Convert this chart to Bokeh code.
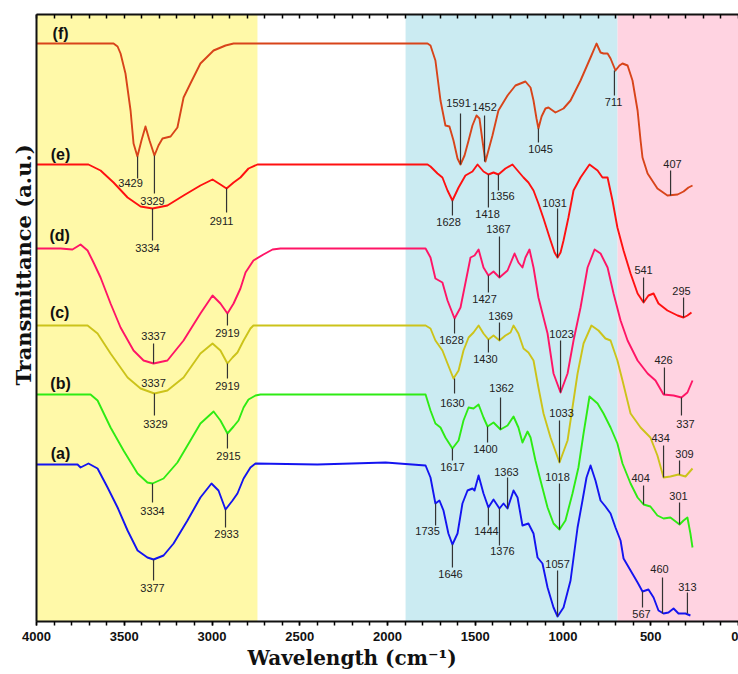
import numpy as np
from bokeh.plotting import figure
from bokeh.models import (Range1d, LinearAxis, SingleIntervalTicker, FixedTicker,
                          BoxAnnotation, Title, ColumnDataSource)
from bokeh.core.properties import value
from bokeh.embed import file_html
from bokeh.resources import INLINE

# ---------------- data (wavenumber cm-1, transmittance a.u.) ----------------
wn_f = [4000, 3863, 3561, 3538, 3521, 3493, 3464, 3447, 3425, 3402, 3379, 3356, 3328, 3305, 3282,
        3236, 3197, 3162, 3123, 3066, 2991, 2923, 2877, 2496, 1926, 1772, 1755, 1727, 1698, 1670,
        1647, 1624, 1601, 1584, 1561, 1538, 1516, 1493, 1476, 1459, 1442, 1425, 1402, 1368, 1316,
        1271, 1214, 1185, 1168, 1151, 1140, 1122, 1100, 1083, 1043, 997, 957, 900, 843, 809, 786,
        769, 746, 729, 701, 678, 661, 632, 604, 575, 558, 547, 518, 462, 405, 347, 313, 285, 262]
t_f = [578, 578, 578, 575, 568, 548, 511, 478, 465, 481, 495, 481, 466, 476, 483,
       485, 494, 524, 538, 558, 571, 576, 578, 578, 578, 578, 576, 561, 521, 496,
       495, 481, 463, 457, 466, 481, 496, 506, 503, 481, 460, 471, 486, 511, 526,
       536, 540, 534, 521, 503, 493, 505, 513, 514, 509, 513, 521, 541, 564, 578, 569,
       568, 568, 563, 551, 556, 558, 556, 541, 511, 481, 464, 448, 433, 426, 427, 430, 434, 436]

wn_e = [4000, 3704, 3635, 3561, 3481, 3407, 3339, 3254, 3162, 3066, 2997, 2952, 2917, 2877, 2838,
        2792, 2741, 1772, 1755, 1715, 1687, 1658, 1630, 1595, 1556, 1516, 1487, 1453, 1425, 1396,
        1368, 1328, 1288, 1259, 1225, 1197, 1168, 1140, 1111, 1071, 1048, 1031, 1014, 997, 969,
        940, 900, 849, 803, 775, 746, 718, 690, 655, 615, 575, 541, 513, 484, 456, 405, 347, 313,
        291, 268]
t_e = [457, 457, 451, 439, 424, 415, 413, 416, 426, 436, 442, 437, 433, 439, 444,
       453, 457, 457, 455, 448, 444, 431, 421, 434, 446, 450, 457, 450, 447, 449,
       447, 453, 457, 451, 444, 439, 431, 418, 403, 381, 369, 364, 369, 381, 404,
       431, 444, 457, 451, 444, 444, 421, 394, 371, 348, 328, 319, 326, 328, 318, 311, 306, 304,
       306, 309]

wn_d = [4000, 3863, 3795, 3749, 3709, 3675, 3635, 3578, 3521, 3447, 3390, 3333, 3254, 3162, 3066,
        2997, 2952, 2912, 2877, 2838, 2809, 2764, 2707, 2655, 2610, 1783, 1755, 1727, 1687, 1658,
        1618, 1584, 1544, 1527, 1504, 1481, 1453, 1425, 1396, 1362, 1316, 1276, 1254, 1231, 1214,
        1191, 1168, 1140, 1088, 1054, 1014, 974, 940, 900, 860, 820, 786, 746, 712, 672, 632,
        575, 518, 473, 427, 370, 325, 291, 262]
t_d = [373, 373, 372, 377, 371, 359, 344, 318, 294, 271, 261, 258, 261, 281, 308,
       326, 318, 308, 318, 333, 349, 361, 367, 372, 373, 373, 364, 343, 339, 321,
       303, 314, 349, 364, 366, 372, 354, 346, 350, 344, 351, 368, 359, 354, 364,
       372, 354, 324, 288, 248, 229, 248, 281, 314, 354, 372, 368, 354, 328, 301, 281,
       261, 248, 241, 227, 226, 224, 229, 241]

wn_c = [4000, 3709, 3652, 3578, 3481, 3407, 3328, 3254, 3162, 3066, 2997, 2952, 2912, 2883, 2855,
        2820, 2781, 2764, 1783, 1755, 1727, 1687, 1658, 1624, 1595, 1567, 1538, 1510, 1481, 1453,
        1425, 1396, 1362, 1328, 1299, 1282, 1254, 1225, 1197, 1168, 1140, 1111, 1071, 1020, 974,
        946, 917, 883, 838, 798, 758, 729, 690, 661, 615, 558, 502, 462, 427, 388, 342, 302, 262]
t_c = [296, 296, 288, 268, 244, 233, 228, 231, 244, 268, 278, 271, 258, 264, 269,
       281, 293, 296, 296, 293, 281, 271, 258, 243, 251, 271, 284, 289, 296, 288,
       282, 286, 281, 286, 289, 296, 288, 273, 269, 261, 234, 208, 184, 159, 181,
       214, 248, 278, 296, 291, 283, 281, 261, 241, 208, 194, 184, 166, 144, 145, 147, 145, 153]

wn_b = [4000, 3692, 3652, 3578, 3504, 3424, 3368, 3339, 3276, 3197, 3123, 3066, 2991, 2952, 2912,
        2877, 2849, 2820, 2792, 2752, 2724, 1783, 1755, 1727, 1698, 1670, 1630, 1595, 1567, 1538,
        1510, 1481, 1453, 1430, 1396, 1356, 1316, 1282, 1254, 1231, 1202, 1185, 1157, 1128, 1088,
        1054, 1020, 986, 946, 912, 883, 849, 803, 769, 729, 690, 661, 615, 575, 541, 502, 462,
        427, 388, 336, 313, 291, 274, 262]
t_b = [227, 227, 221, 194, 171, 148, 139, 138, 143, 159, 181, 198, 210, 201, 188,
       195, 201, 214, 222, 226, 227, 227, 211, 198, 194, 184, 173, 181, 201, 214,
       213, 217, 204, 195, 199, 192, 196, 205, 194, 179, 190, 184, 161, 141, 114,
       98, 92, 101, 128, 154, 188, 225, 218, 208, 194, 178, 158, 138, 124, 117, 115, 106,
       103, 104, 97, 101, 104, 88, 74]

wn_a = [4000, 3766, 3749, 3704, 3652, 3595, 3538, 3481, 3424, 3368, 3333, 3276, 3219, 3140, 3066,
        3003, 2963, 2923, 2883, 2855, 2820, 2781, 2752, 2400, 2011, 1783, 1755, 1727, 1704, 1681,
        1653, 1630, 1601, 1573, 1544, 1516, 1504, 1481, 1453, 1425, 1396, 1362, 1339, 1316, 1282,
        1259, 1231, 1197, 1168, 1145, 1117, 1088, 1054, 1031, 997, 957, 917, 889, 866, 843, 815,
        786, 758, 729, 701, 672, 655, 615, 575, 547, 513, 484, 456, 427, 399, 370, 342, 302, 274]
t_a = [157, 157, 154, 158, 153, 134, 114, 91, 71, 64, 62, 66, 78, 101, 124,
       138, 131, 112, 121, 128, 143, 154, 158, 157, 159, 156, 144, 118, 121, 111,
       88, 77, 88, 118, 131, 133, 131, 146, 128, 114, 122, 113, 118, 113, 131,
       124, 96, 98, 88, 64, 58, 34, 14, 5, 14, 41, 94, 121, 144, 156, 141,
       121, 115, 108, 94, 81, 63, 51, 39, 30, 32, 24, 11, 8, 9, 13, 8, 8, 6]

series_names = ["(a)", "(b)", "(c)", "(d)", "(e)", "(f)"]
series_colors = ["#1414F0", "#2EEB14", "#CCC31A", "#FF1566", "#FF1010", "#D8441A"]
series_wn = [wn_a, wn_b, wn_c, wn_d, wn_e, wn_f]
series_t = [t_a, t_b, t_c, t_d, t_e, t_f]
name_wn = [3863, 3863, 3868, 3868, 3863, 3863]
name_t = [168, 238, 309, 386, 467, 588]

# peak annotations: label, tick x, tick y0, tick y1, label x, label y
pk_text = ["3429", "3329", "1591", "1452", "1045", "711", "407",
           "3334", "2911", "1628", "1418", "1356", "1031", "541", "295",
           "3337", "2919", "1628", "1427", "1367", "1023", "426", "337",
           "3337", "3329", "2919", "1630", "1430", "1369", "1033", "434", "309",
           "3334", "2915", "1617", "1400", "1362", "1018", "404", "301",
           "3377", "2933", "1735", "1646", "1444", "1376", "1363", "1057", "567", "460", "313"]
pk_x = [3424, 3328, 1584, 1447, 1140, 707, 387,
        3339, 2917, 1630, 1425, 1368, 1031, 541, 313,
        3333, 2912, 1618, 1425, 1362, 1014, 422, 325,
        3333, 3328, 2912, 1618, 1425, 1362, 1020, 427, 336,
        3339, 2912, 1630, 1430, 1356, 1020, 541, 336,
        3333, 2923, 1726, 1630, 1425, 1362, 1316, 1031, 547, 433, 291]
pk_y0 = [465, 466, 508, 506, 493, 551, 451,
         413, 433, 421, 447, 447, 413, 344, 324,
         278, 308, 303, 346, 385, 281, 254, 224,
         239, 228, 258, 243, 282, 299, 201, 176, 161,
         138, 188, 173, 195, 224, 138, 136, 119,
         62, 112, 118, 77, 114, 113, 144, 51, 30, 44, 29]
pk_y1 = [443, 428, 457, 460, 479, 526, 426,
         381, 409, 406, 414, 431, 364, 319, 304,
         258, 296, 288, 329, 344, 229, 227, 206,
         239, 206, 243, 228, 269, 281, 159, 144, 147,
         119, 173, 161, 179, 192, 92, 117, 97,
         41, 94, 96, 54, 96, 76, 113, 5, 14, 8, 8]
lab_x = [3464, 3339, 1595, 1447, 1128, 712, 376,
         3368, 2946, 1652, 1430, 1345, 1048, 541, 325,
         3333, 2912, 1635, 1447, 1368, 1008, 427, 302,
         3333, 3322, 2912, 1630, 1442, 1356, 1008, 444, 308,
         3339, 2906, 1630, 1442, 1350, 1031, 558, 342,
         3339, 2917, 1772, 1641, 1436, 1345, 1322, 1031, 553, 450, 291]
lab_y = [439, 421, 519, 515, 473, 520, 458,
         374, 401, 400, 408, 426, 419, 352, 331,
         286, 289, 282, 323, 393, 288, 262, 198,
         239, 198, 236, 219, 263, 306, 209, 184, 168,
         111, 166, 155, 173, 234, 145, 144, 126,
         34, 88, 91, 48, 91, 71, 150, 58, 8, 53, 35]

# shaded regions (cm-1)
band_left = [4000, 1897, 689]
band_right = [2741, 689, 0]
band_colors = ["#FFF9A8", "#CBEBF2", "#FFD3E1"]

minor_positions = list(range(0, 4001, 100))

# ---------------- figure ----------------
p = figure(width=738, height=674, output_backend="svg", toolbar_location=None,
           x_range=Range1d(4000, 0), y_range=Range1d(0, 607),
           x_axis_location=None, y_axis_location=None,
           min_border_left=36, min_border_right=0, min_border_top=14, min_border_bottom=53)
p.outline_line_color = None
p.background_fill_color = "white"
p.border_fill_color = "white"
p.xgrid.visible = False
p.ygrid.visible = False

for l, r, c in zip(band_left, band_right, band_colors):
    p.add_layout(BoxAnnotation(left=r, right=l, fill_color=c, fill_alpha=1.0,
                               line_color=None, level="underlay"))

bottom = LinearAxis(ticker=SingleIntervalTicker(interval=500, num_minor_ticks=5))
bottom.axis_line_width = 2
bottom.axis_line_color = "#111111"
bottom.major_tick_out = 4
bottom.major_tick_in = 0
bottom.minor_tick_out = 4
bottom.minor_tick_in = 0
bottom.major_tick_line_width = 1.5
bottom.minor_tick_line_width = 1.5
bottom.major_label_text_font = "Liberation Sans"
bottom.major_label_text_font_style = "bold"
bottom.major_label_text_font_size = "13px"
bottom.major_label_text_color = "#111111"
bottom.major_label_standoff = 6
p.add_layout(bottom, "below")

top = LinearAxis(ticker=FixedTicker(ticks=[], minor_ticks=minor_positions))
top.axis_line_width = 2
top.axis_line_color = "#111111"
top.major_tick_in = 0
top.major_tick_out = 0
top.minor_tick_in = 4
top.minor_tick_out = 0
top.minor_tick_line_width = 1.5
top.major_label_standoff = 0
p.add_layout(top, "above")

left = LinearAxis(ticker=FixedTicker(ticks=[]))
left.axis_line_width = 2
left.axis_line_color = "#111111"
left.major_tick_out = 0
left.minor_tick_out = 0
left.major_label_standoff = 0
p.add_layout(left, "left")

for wn, t, c in zip(series_wn, series_t, series_colors):
    p.line(wn, t, line_color=c, line_width=1.9, line_join="round")

src = ColumnDataSource(dict(x=pk_x, y0=pk_y0, y1=pk_y1, lx=lab_x, ly=lab_y, txt=pk_text))
p.segment(x0="x", y0="y0", x1="x", y1="y1", source=src, line_color="#333333", line_width=1.2)
p.text(x="lx", y="ly", text="txt", source=src, text_font=value("Liberation Sans"),
       text_font_size="11px", text_color="#222222", text_align="center", text_baseline="middle")

p.text(x=name_wn, y=name_t, text=series_names, text_font=value("Liberation Sans"),
       text_font_size="16px", text_font_style="bold", text_color="#111111",
       text_align="center", text_baseline="middle")

p.add_layout(Title(text="Wavelength (cm\u207b\u00b9)", align="left", offset=211, standoff=0,
                   text_font="DejaVu Serif", text_font_style="bold",
                   text_font_size="20px", text_color="#111111"), "below")
p.add_layout(Title(text="Transmittance (a.u.)", align="left", offset=236, standoff=2,
                   text_font="DejaVu Serif", text_font_style="bold",
                   text_font_size="21px", text_color="#111111"), "left")

open("out.html", "w").write(file_html(p, INLINE))
